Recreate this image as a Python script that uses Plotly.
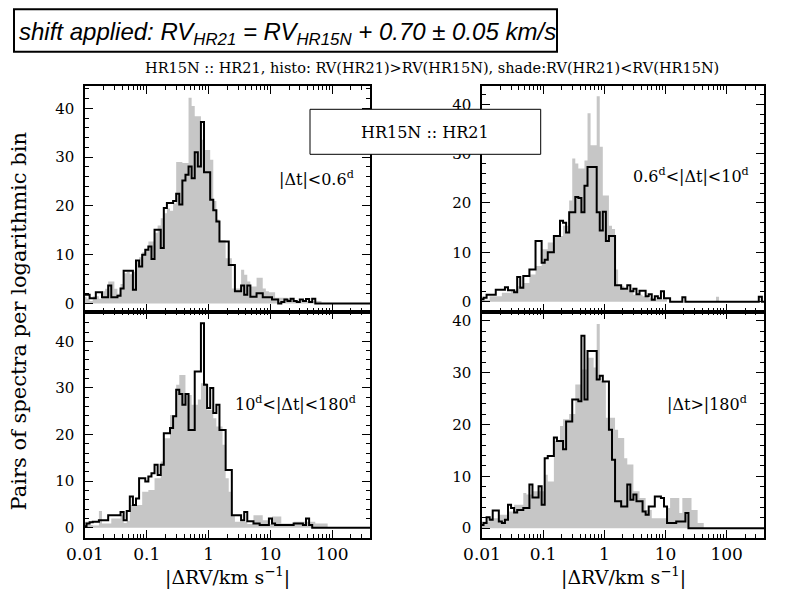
import plotly.graph_objects as go

W, H = 794, 595
NBIN = 93
BIN0 = -2.025      # left edge of first logarithmic bin (log10 km/s)
DBIN = 0.05        # bin width in dex

# ---------------- data (counts per logarithmic bin) ----------------
tl_line = [1.8,1.8,1.1,1.1,2.3,2.3,1.3,1.3,3.7,1.3,1.3,1.6,3.1,6.7,6.7,6.7,2.8,8.8,7.6,10.0,
           11.0,11.7,9.1,15.1,15.1,11.4,19.6,20.6,20.6,21.0,22.5,20.3,25.2,26.4,28.1,25.7,31.0,28.1,37.2,26.9,
           26.9,21.3,19.1,16.8,12.7,12.7,12.7,7.9,7.9,2.5,2.5,3.7,1.8,3.7,1.4,1.4,2.1,2.1,1.3,1.3,
           1.3,0.8,0.8,0,0.3,0.8,0.5,1.0,0.5,0.3,0.8,0.5,0.9,0.3,1.0,0]
tl_shade = [1.4,1.0,0.5,1.5,1.5,1.0,2.5,3.0,4.5,4.5,3.0,2.0,4.0,6.2,6.5,6.0,6.5,8.5,9.5,10.5,
            11.0,12.7,12.7,14.5,16.0,17.5,18.5,19.5,19.0,20.5,29.0,29.0,28.8,28.8,42.2,40.5,38.4,38.4,33.6,31.5,
            31.5,29.5,21.0,17.2,13.0,13.0,9.3,9.3,3.1,3.1,3.1,6.9,5.9,4.5,3.5,3.5,5.3,5.3,3.1,2.5,
            2.3,2.3,1.2,1.2,1.2,1.2,0.8,0.8,0.5,0.5,0.5,0.5,0.5,0.5,0.5,0.5,0.5]

tr_line = [0.5,0.8,1.4,1.4,1.4,2.4,2.4,2.4,2.9,2.3,2.3,1.9,5.0,2.8,5.2,5.2,6.5,6.5,12.3,12.3,
           7.9,8.5,10.0,10.0,13.3,13.3,16.4,16.0,14.0,18.1,18.1,21.2,21.0,18.1,23.5,27.3,27.3,27.3,18.1,14.4,
           18.2,12.3,13.3,13.3,3.3,3.3,2.6,2.6,3.3,2.1,2.6,1.5,2.2,2.2,1.1,1.5,0.4,1.1,0.7,2.1,
           0.7,0.7,0,0,0,0,0.9,0,0,0,0,0,0,0,0,0,0,0,0,0,
           0,0,0,0,0,0,0,0,0,0,0,1.0]
tr_shade = [0.4,0.4,0.4,1.1,1.1,1.1,1.1,1.8,1.8,1.8,2.4,2.4,3.1,3.1,3.8,3.8,5.5,5.5,7.2,7.2,
            10.6,10.6,12.0,12.0,13.3,13.3,13.3,15.4,15.4,20.5,29.0,28.0,27.0,27.0,28.6,38.2,31.7,31.7,41.6,31.4,
            21.5,21.5,15.4,14.7,6.5,3.1,3.1,2.4,2.4,2.4,1.4,1.4,1.4,1.1,1.1,0.7,0.7,0.5,0.5,0.5,
            0.5,0,0,0,0,0,0,0,0,0,0,0,0,0,0,0,0,1.0]

bl_line = [0.3,0.9,1.2,1.3,1.3,1.6,1.6,1.6,2.7,2.7,2.7,2.7,3.4,1.6,3.6,6.7,4.9,6.3,10.6,10.6,
           9.9,11.0,11.7,13.5,11.3,13.5,20.3,20.3,21.4,23.9,29.6,28.7,26.4,28.7,21.0,21.0,33.5,33.5,43.9,30.7,
           25.7,30.0,24.6,26.4,21.0,21.0,12.4,12.4,2.7,2.7,2.7,1.6,3.4,1.4,1.4,0.9,0.9,0.6,0.6,0.6,
           2.0,0.9,0.6,0.6,0.6,0.6,0.6,0.6,0.9,0.9,0.9,0.6,2.0,0.6,0]
bl_shade = [1.3,1.3,0.6,0.5,0.5,3.6,0.9,0.9,0.9,2.0,2.0,2.0,2.7,1.0,1.5,4.9,4.9,4.9,4.9,7.7,
            7.7,8.1,8.1,10.6,10.6,14.2,19.2,19.2,24.2,24.2,30.7,32.8,32.8,28.5,28.5,26.4,26.4,27.5,31.0,31.0,
            25.3,25.3,23.5,21.7,21.7,17.8,10.6,7.7,2.7,1.3,1.3,1.3,1.3,0.8,0.8,2.7,2.7,2.7,1.6,1.6,
            0.8,2.4,2.4,2.4,0.9,0.9,0.9,0.9,1.3,1.3,1.3,1.3,1.3,1.3,1.3,0.9,0.9,0.9,0.9]

br_line = [0.6,1.0,2.1,1.6,3.4,3.4,1.3,1.0,1.6,4.5,3.9,3.0,3.5,3.5,3.9,3.9,8.4,5.9,5.9,8.1,
           4.5,13.5,13.9,13.9,17.5,16.8,16.8,15.2,20.6,20.6,24.8,24.8,24.5,37.1,24.8,34.2,34.2,34.2,28.7,29.4,
           28.3,28.3,19.0,13.2,5.2,5.2,4.2,4.2,8.4,5.5,6.5,5.2,5.2,3.2,2.6,4.2,4.2,6.1,6.1,5.8,
           4.2,1.0,1.0,1.0,1.3,1.3,1.3,2.9,0]
br_shade = [1.3,1.3,1.3,1.9,1.9,1.9,2.6,2.6,2.6,3.2,3.2,4.5,4.5,4.5,6.8,6.5,6.5,7.1,7.1,7.1,
            7.1,10.3,9.0,9.0,16.8,16.8,19.7,21.0,21.0,22.0,22.0,27.7,27.7,30.6,30.6,32.9,32.9,31.0,39.4,28.4,
            28.4,21.3,21.3,21.3,19.0,17.4,17.4,13.5,12.3,12.3,7.1,7.1,5.8,5.8,3.5,3.5,1.9,1.9,1.9,1.9,
            1.9,3.9,5.8,5.8,5.8,2.9,5.8,5.8,5.8,3.5,3.5,1.0,1.0,0]

panel_labels = ["|Δt|&lt;0.6<sup>d</sup>", "0.6<sup>d</sup>&lt;|Δt|&lt;10<sup>d</sup>",
                "10<sup>d</sup>&lt;|Δt|&lt;180<sup>d</sup>", "|Δt&gt;|180<sup>d</sup>"]
xtick_vals = [0.01, 0.1, 1, 10, 100]
xtick_text = ["0.01", "0.1", "1", "10", "100"]
ytick_vals = [0, 10, 20, 30, 40]

# ---------------- layout geometry (pixels) ----------------
panels = [
    dict(x=(85, 370), y=(86, 311.5), yr=(-1.64, 44.6), lab=(356, 178)),
    dict(x=(482, 764), y=(86, 311.5), yr=(-2.0, 43.7), lab=(751, 175)),
    dict(x=(85, 370), y=(311.5, 538), yr=(-2.2, 46.4), lab=(358, 403)),
    dict(x=(482, 764), y=(311.5, 538), yr=(-1.9, 41.8), lab=(749, 403)),
]
series = [(tl_line, tl_shade), (tr_line, tr_shade), (bl_line, bl_shade), (br_line, br_shade)]

def px(x):
    return x / W

def py(y):
    return 1 - y / H

def pad(v):
    return list(v) + [0] * (NBIN - len(v))

edges = [10 ** (BIN0 + DBIN * k) for k in range(NBIN + 1)]

minor_x = [m * 10 ** e for e in range(-2, 3) for m in range(2, 10)]

fig = go.Figure()
FONT_SERIF = "DejaVu Serif"

for i, (p, (line, shade)) in enumerate(zip(panels, series)):
    n = "" if i == 0 else str(i + 1)
    xa, ya = "x" + n, "y" + n
    sv = pad(shade)
    lv = pad(line)
    fig.add_trace(go.Scatter(x=edges, y=sv + [sv[-1]], mode="lines", line_shape="hv",
                             line=dict(width=0, color="#c6c6c6"), fill="tozeroy",
                             fillcolor="#c6c6c6", xaxis=xa, yaxis=ya, hoverinfo="skip",
                             showlegend=False))
    fig.add_trace(go.Scatter(x=edges, y=lv + [lv[-1]], mode="lines", line_shape="hv",
                             line=dict(width=2, color="black"), xaxis=xa, yaxis=ya,
                             showlegend=False))
    bottom = i >= 2
    fig.layout["xaxis" + n] = dict(
        domain=[px(p["x"][0]), px(p["x"][1])], anchor=ya, type="log", range=[-2.0, 2.61],
        tickvals=xtick_vals, ticktext=xtick_text, showticklabels=bottom, automargin=False,
        ticks="inside", ticklen=8, tickwidth=1, tickcolor="black",
        minor=dict(tickvals=minor_x, ticks="inside", ticklen=4, tickwidth=1, tickcolor="black",
                   showgrid=False),
        showline=True, linecolor="black", linewidth=1.5, mirror="allticks",
        showgrid=False, zeroline=False,
        tickfont=dict(family=FONT_SERIF, size=17, color="black"))
    fig.layout["yaxis" + n] = dict(
        domain=[py(p["y"][1]), py(p["y"][0])], anchor=xa, range=list(p["yr"]), automargin=False,
        tickvals=ytick_vals, ticks="inside", ticklen=8, tickwidth=1, tickcolor="black",
        minor=dict(dtick=2, ticks="inside", ticklen=4, tickwidth=1, tickcolor="black",
                   showgrid=False),
        showline=True, linecolor="black", linewidth=1.5, mirror="allticks",
        showgrid=False, zeroline=False, ticklabelstandoff=6,
        tickfont=dict(family=FONT_SERIF, size=15, color="black"))

shapes = [
    dict(type="rect", xref="paper", yref="paper", x0=px(14), x1=px(557), y0=py(51.7), y1=py(9.3),
         line=dict(color="black", width=2), fillcolor="white", layer="above"),
    dict(type="rect", xref="paper", yref="paper", x0=px(310), x1=px(540.7), y0=py(154.3), y1=py(109.3),
         line=dict(color="black", width=1), fillcolor="white", layer="above"),
]

ann = [
    dict(text="<i>shift applied: RV<sub>HR21</sub> = RV<sub>HR15N</sub> + 0.70 ± 0.05 km/s</i>",
         x=px(287), y=py(33), xanchor="center", yanchor="middle",
         font=dict(family="Liberation Sans", size=24, color="black")),
    dict(text="HR15N :: HR21, histo: RV(HR21)&gt;RV(HR15N), shade:RV(HR21)&lt;RV(HR15N)",
         x=px(432), y=py(68), xanchor="center", yanchor="middle",
         font=dict(family=FONT_SERIF, size=14.5, color="black")),
    dict(text="HR15N :: HR21", x=px(425), y=py(132), xanchor="center", yanchor="middle",
         font=dict(family=FONT_SERIF, size=16, color="black")),
    dict(text="Pairs of spectra per logarithmic bin", x=px(18.5), y=py(322), textangle=-90,
         xanchor="center", yanchor="middle", font=dict(family=FONT_SERIF, size=21, color="black")),
    dict(text="|ΔRV/km s<sup>−1</sup>|", x=px(227.5), y=py(576), xanchor="center", yanchor="middle",
         font=dict(family=FONT_SERIF, size=19, color="black")),
    dict(text="|ΔRV/km s<sup>−1</sup>|", x=px(623), y=py(576), xanchor="center", yanchor="middle",
         font=dict(family=FONT_SERIF, size=19, color="black")),
]
for p, lab in zip(panels, panel_labels):
    ann.append(dict(text=lab, x=px(p["lab"][0]), y=py(p["lab"][1]), xanchor="right", yanchor="middle",
                    font=dict(family=FONT_SERIF, size=16, color="black")))
for a in ann:
    a.update(xref="paper", yref="paper", showarrow=False)

fig.update_layout(width=W, height=H, margin=dict(l=0, r=0, t=0, b=0, pad=0), autosize=False,
                  paper_bgcolor="white", plot_bgcolor="white", shapes=shapes, annotations=ann,
                  showlegend=False)

fig.write_html("out.html", config={"displayModeBar": False},
               post_script="document.body.style.margin='0';document.body.style.overflow='hidden';")
